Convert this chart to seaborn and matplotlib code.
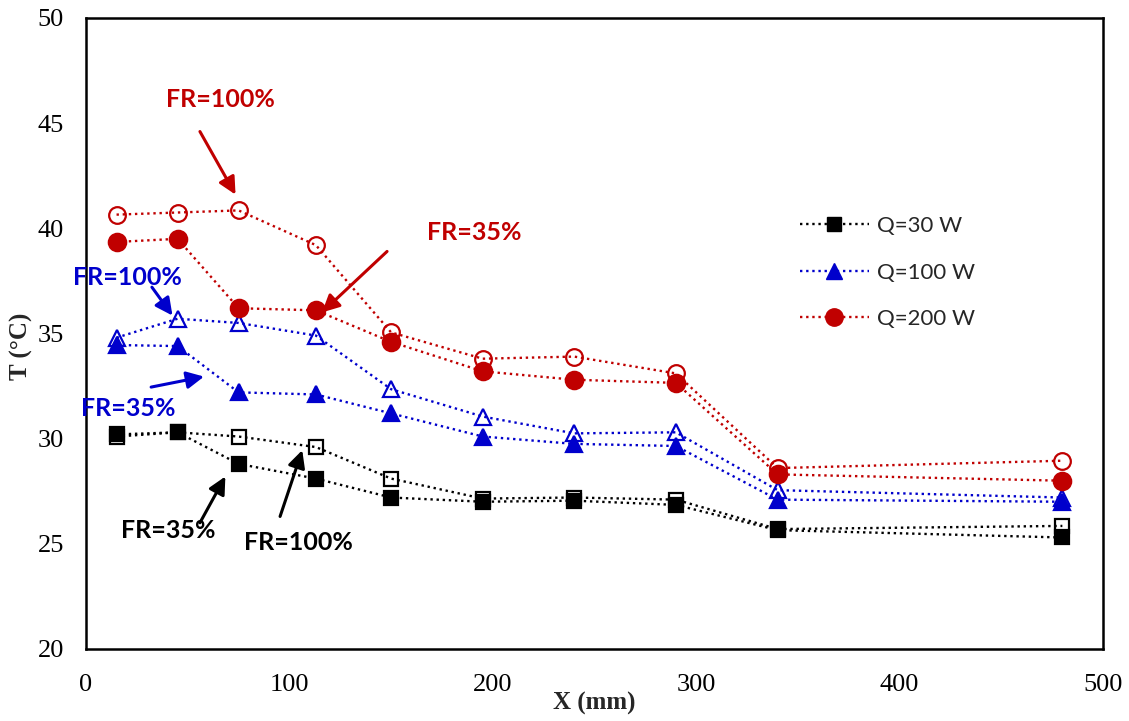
import matplotlib
matplotlib.use("Agg")
import matplotlib.pyplot as plt
from matplotlib.lines import Line2D
import seaborn as sns
import pandas as pd

# Measurement positions along the pipe (mm)
x_mm = [15, 45, 75, 113, 150, 195, 240, 290, 340, 480]

# Temperatures (°C) for each heat load and fill ratio
t_q30_fr35 = [30.2, 30.3, 28.8, 28.1, 27.2, 27.0, 27.05, 26.85, 25.65, 25.3]
t_q30_fr100 = [30.1, 30.3, 30.1, 29.6, 28.1, 27.15, 27.2, 27.1, 25.7, 25.85]
t_q100_fr35 = [34.45, 34.4, 32.2, 32.1, 31.2, 30.1, 29.75, 29.65, 27.1, 27.0]
t_q100_fr100 = [34.8, 35.7, 35.5, 34.9, 32.35, 31.05, 30.25, 30.3, 27.55, 27.2]
t_q200_fr35 = [39.35, 39.5, 36.2, 36.1, 34.6, 33.2, 32.8, 32.65, 28.3, 28.0]
t_q200_fr100 = [40.65, 40.75, 40.85, 39.2, 35.05, 33.8, 33.9, 33.1, 28.6, 28.95]

series_labels = ["Q=30 W", "Q=100 W", "Q=200 W"]
annotation_text = ["FR=100%", "FR=35%"]

BLACK, BLUE, RED = "#000000", "#0000CC", "#C00000"

sns.set_theme(style="white")
plt.rcParams["font.family"] = ["Liberation Serif", "DejaVu Serif"]

fig = plt.figure(figsize=(11.29, 7.21), dpi=100)
ax = fig.add_axes([0.0762, 0.0999, 0.9008, 0.8752])

rows = []
for name, vals in [("q30_fr35", t_q30_fr35), ("q30_fr100", t_q30_fr100),
                   ("q100_fr35", t_q100_fr35), ("q100_fr100", t_q100_fr100),
                   ("q200_fr35", t_q200_fr35), ("q200_fr100", t_q200_fr100)]:
    for xv, tv in zip(x_mm, vals):
        rows.append({"series": name, "X": xv, "T": tv})
df = pd.DataFrame(rows)

styles = {
    "q30_fr100": dict(color=BLACK, marker="s", ms=9.5, filled=False),
    "q100_fr100": dict(color=BLUE, marker="^", ms=11, filled=False),
    "q200_fr100": dict(color=RED, marker="o", ms=12, filled=False),
    "q30_fr35": dict(color=BLACK, marker="s", ms=10, filled=True),
    "q100_fr35": dict(color=BLUE, marker="^", ms=11.5, filled=True),
    "q200_fr35": dict(color=RED, marker="o", ms=12.5, filled=True),
}

for name, st in styles.items():
    sub = df[df["series"] == name]
    sns.lineplot(data=sub, x="X", y="T", ax=ax, color=st["color"],
                 linestyle=(0, (1, 1.6)), linewidth=1.7,
                 marker=st["marker"], markersize=st["ms"],
                 markerfacecolor=st["color"] if st["filled"] else "none",
                 markeredgecolor=st["color"], markeredgewidth=1.6,
                 legend=False, zorder=3)

ax.set_xlim(0, 500)
ax.set_ylim(20, 50)
ax.set_xticks([0, 100, 200, 300, 400, 500])
ax.set_yticks([20, 25, 30, 35, 40, 45, 50])
ax.tick_params(axis="both", direction="in", length=6, width=1.5,
               labelsize=19, colors="black")
ax.tick_params(axis="x", pad=18)
ax.tick_params(axis="y", pad=16)
for sp in ax.spines.values():
    sp.set_color("black")
    sp.set_linewidth(1.8)

ax.set_xlabel("X (mm)", fontsize=18, fontweight="bold", labelpad=-3)
ax.set_ylabel("T (°C)", fontsize=18, fontweight="bold")
ax.yaxis.set_label_coords(-0.052, 0.48)

# Legend with the filled-marker style for each heat load
handles = [
    Line2D([], [], color=BLACK, linestyle=(0, (1, 1.6)), linewidth=1.7,
           marker="s", markersize=10, markerfacecolor=BLACK, markeredgecolor=BLACK),
    Line2D([], [], color=BLUE, linestyle=(0, (1, 1.6)), linewidth=1.7,
           marker="^", markersize=11.5, markerfacecolor=BLUE, markeredgecolor=BLUE),
    Line2D([], [], color=RED, linestyle=(0, (1, 1.6)), linewidth=1.7,
           marker="o", markersize=12.5, markerfacecolor=RED, markeredgecolor=RED),
]
leg = ax.legend(handles, series_labels, loc="upper left",
                bbox_to_anchor=(0.682, 0.718), frameon=False,
                handlelength=3.1, handletextpad=0.4, labelspacing=1.2,
                prop={"family": "Lato", "size": 16})

# Fill-ratio callouts: (text, text position, arrow tail, arrow head, colour)
callouts = [
    (annotation_text[0], (66, 46.1), (56, 44.6), (73.5, 41.6), RED),
    (annotation_text[1], (191, 39.8), (148, 38.9), (116, 36.0), RED),
    (annotation_text[0], (20.6, 37.65), (32.4, 37.2), (42.5, 35.85), BLUE),
    (annotation_text[1], (20.6, 31.45), (32.0, 32.45), (58, 32.95), BLUE),
    (annotation_text[1], (40.3, 25.65), (56, 26.0), (68.5, 28.2), BLACK),
    (annotation_text[0], (104.2, 25.05), (95.4, 26.3), (106.3, 29.45), BLACK),
]
for txt, tpos, tail, head, col in callouts:
    ax.annotate("", xy=head, xytext=tail,
                arrowprops=dict(arrowstyle="-|>", color=col, lw=2.2,
                                mutation_scale=26, shrinkA=0, shrinkB=0),
                zorder=4)
    ax.text(tpos[0], tpos[1], txt, color=col, fontsize=18, fontweight="bold",
            family=["Lato", "DejaVu Sans"], ha="center", va="center", zorder=5)

fig.savefig("out.png", dpi=100, facecolor="white")
